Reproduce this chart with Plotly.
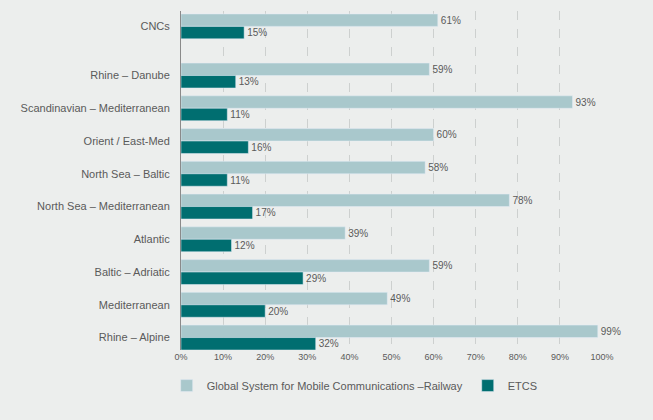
import plotly.graph_objects as go

corridors = ['CNCs', 'Rhine – Danube', 'Scandinavian – Mediterranean', 'Orient / East-Med',
             'North Sea – Baltic', 'North Sea – Mediterranean', 'Atlantic',
             'Baltic – Adriatic', 'Mediterranean', 'Rhine – Alpine']
gsm_r = [61, 59, 93, 60, 58, 78, 39, 59, 49, 99]
etcs = [15, 13, 11, 16, 11, 17, 12, 29, 20, 32]
x_ticks = [0, 10, 20, 30, 40, 50, 60, 70, 80, 90, 100]

# row positions: CNCs sits a bit apart from the corridors
ypos = [9.5, 8, 7, 6, 5, 4, 3, 2, 1, 0]

bg = '#eceeed'
light = '#a9c8cc'
dark = '#006e70'
grey = '#5a5a5a'
bw = 0.38

fig = go.Figure()
fig.add_trace(go.Bar(
    y=ypos, x=gsm_r, orientation='h', name='Global System for Mobile Communications –Railway',
    marker=dict(color=light), width=bw, offset=0,
    text=[f'{v}%' for v in gsm_r], textposition='outside',
    textfont=dict(size=10, color=grey), cliponaxis=False,
))
fig.add_trace(go.Bar(
    y=ypos, x=etcs, orientation='h', name='ETCS',
    marker=dict(color=dark), width=bw, offset=-bw,
    text=[f'{v}%' for v in etcs], textposition='outside',
    textfont=dict(size=10, color=grey), cliponaxis=False,
))

fig.update_layout(
    width=653, height=420,
    paper_bgcolor=bg, plot_bgcolor=bg,
    margin=dict(l=181, r=51, t=11, b=70),
    barmode='overlay',
    font=dict(family='Liberation Sans, Arial, sans-serif', color=grey, size=11),
    legend=dict(orientation='h', x=-0.034, xanchor='left', y=-0.105, yanchor='middle',
                font=dict(size=11, color=grey), traceorder='normal',
                itemwidth=30),
)
fig.update_xaxes(
    range=[0, 100], tickvals=x_ticks, ticktext=[f'{v}%' for v in x_ticks],
    showgrid=True, gridcolor='#cdd0cf', griddash='dash', gridwidth=1,
    zeroline=False, showline=False, tickfont=dict(size=9, color=grey),
    automargin=False,
)
fig.update_yaxes(
    range=[-0.38, 9.97], tickvals=ypos, ticktext=corridors,
    showgrid=False, zeroline=False, showline=True, linecolor='#8a8a8a', linewidth=1,
    ticks='', ticklabelstandoff=8, tickfont=dict(size=11, color=grey),
    automargin=False,
)

fig.write_html('out.html', config={'displayModeBar': False},
               post_script=f"document.body.style.margin='0';document.body.style.background='{bg}';")
